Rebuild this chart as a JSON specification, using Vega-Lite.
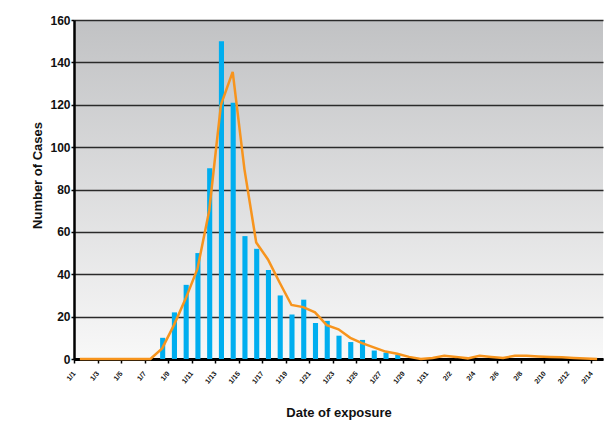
{
  "$schema": "https://vega.github.io/schema/vega-lite/v6.json",
  "width": 529,
  "height": 339,
  "autosize": "none",
  "padding": {"left": 74, "top": 20, "right": 5, "bottom": 66},
  "background": "#ffffff",
  "config": {
    "view": {
      "stroke": null,
      "fill": {"gradient": "linear", "x1": 0, "y1": 0, "x2": 0, "y2": 1, "stops": [{"offset": 0, "color": "#c1c2c4"}, {"offset": 1, "color": "#f8f8f8"}]}
    },
    "font": "Liberation Sans"
  },
  "datasets": {
    "bars": [
      {"date": "2010/01/08", "cases": 10},
      {"date": "2010/01/09", "cases": 22},
      {"date": "2010/01/10", "cases": 35},
      {"date": "2010/01/11", "cases": 50},
      {"date": "2010/01/12", "cases": 90},
      {"date": "2010/01/13", "cases": 150},
      {"date": "2010/01/14", "cases": 121},
      {"date": "2010/01/15", "cases": 58},
      {"date": "2010/01/16", "cases": 52},
      {"date": "2010/01/17", "cases": 42},
      {"date": "2010/01/18", "cases": 30},
      {"date": "2010/01/19", "cases": 21},
      {"date": "2010/01/20", "cases": 28},
      {"date": "2010/01/21", "cases": 17},
      {"date": "2010/01/22", "cases": 18},
      {"date": "2010/01/23", "cases": 11},
      {"date": "2010/01/24", "cases": 8},
      {"date": "2010/01/25", "cases": 9},
      {"date": "2010/01/26", "cases": 4},
      {"date": "2010/01/27", "cases": 3},
      {"date": "2010/01/28", "cases": 2}
    ],
    "trend": [
      {"date": "2010/01/01", "avg": 0},
      {"date": "2010/01/02", "avg": 0},
      {"date": "2010/01/03", "avg": 0},
      {"date": "2010/01/04", "avg": 0},
      {"date": "2010/01/05", "avg": 0},
      {"date": "2010/01/06", "avg": 0},
      {"date": "2010/01/07", "avg": 0},
      {"date": "2010/01/08", "avg": 5},
      {"date": "2010/01/09", "avg": 16},
      {"date": "2010/01/10", "avg": 28.5},
      {"date": "2010/01/11", "avg": 42.5},
      {"date": "2010/01/12", "avg": 70},
      {"date": "2010/01/13", "avg": 120},
      {"date": "2010/01/14", "avg": 135.5},
      {"date": "2010/01/15", "avg": 89.5},
      {"date": "2010/01/16", "avg": 55},
      {"date": "2010/01/17", "avg": 47},
      {"date": "2010/01/18", "avg": 36},
      {"date": "2010/01/19", "avg": 25.5},
      {"date": "2010/01/20", "avg": 24.5},
      {"date": "2010/01/21", "avg": 22},
      {"date": "2010/01/22", "avg": 16},
      {"date": "2010/01/23", "avg": 14},
      {"date": "2010/01/24", "avg": 10},
      {"date": "2010/01/25", "avg": 7.5},
      {"date": "2010/01/26", "avg": 5.5},
      {"date": "2010/01/27", "avg": 3.5},
      {"date": "2010/01/28", "avg": 2.5},
      {"date": "2010/01/29", "avg": 1},
      {"date": "2010/01/30", "avg": 0},
      {"date": "2010/01/31", "avg": 0.5},
      {"date": "2010/02/01", "avg": 1.5},
      {"date": "2010/02/02", "avg": 1},
      {"date": "2010/02/03", "avg": 0.3},
      {"date": "2010/02/04", "avg": 1.5},
      {"date": "2010/02/05", "avg": 1},
      {"date": "2010/02/06", "avg": 0.5},
      {"date": "2010/02/07", "avg": 1.5},
      {"date": "2010/02/08", "avg": 1.5},
      {"date": "2010/02/09", "avg": 1.2},
      {"date": "2010/02/10", "avg": 1},
      {"date": "2010/02/11", "avg": 0.8},
      {"date": "2010/02/12", "avg": 0.5},
      {"date": "2010/02/13", "avg": 0.2},
      {"date": "2010/02/14", "avg": 0}
    ]
  },
  "layer": [
    {
      "data": {"name": "bars"},
      "mark": {"type": "bar", "color": "#00aeef", "width": {"band": 0.52}},
      "encoding": {
        "x": {
          "field": "date",
          "type": "temporal",
          "timeUnit": "yearmonthdate",
          "scale": {"domain": [{"year": 2010, "month": 1, "date": 1}, {"year": 2010, "month": 2, "date": 15}], "nice": false},
          "axis": {
            "title": "Date of exposure",
            "titleFont": "Liberation Sans",
            "titleFontSize": 13,
            "titleFontWeight": "bold",
            "titleColor": "#111111",
            "titleY": 53,
            "titleBaseline": "middle",
            "tickCount": 100,
            "values": [
              {"year": 2010, "month": 1, "date": 1},
              {"year": 2010, "month": 1, "date": 3},
              {"year": 2010, "month": 1, "date": 5},
              {"year": 2010, "month": 1, "date": 7},
              {"year": 2010, "month": 1, "date": 9},
              {"year": 2010, "month": 1, "date": 11},
              {"year": 2010, "month": 1, "date": 13},
              {"year": 2010, "month": 1, "date": 15},
              {"year": 2010, "month": 1, "date": 17},
              {"year": 2010, "month": 1, "date": 19},
              {"year": 2010, "month": 1, "date": 21},
              {"year": 2010, "month": 1, "date": 23},
              {"year": 2010, "month": 1, "date": 25},
              {"year": 2010, "month": 1, "date": 27},
              {"year": 2010, "month": 1, "date": 29},
              {"year": 2010, "month": 1, "date": 31},
              {"year": 2010, "month": 2, "date": 2},
              {"year": 2010, "month": 2, "date": 4},
              {"year": 2010, "month": 2, "date": 6},
              {"year": 2010, "month": 2, "date": 8},
              {"year": 2010, "month": 2, "date": 10},
              {"year": 2010, "month": 2, "date": 12},
              {"year": 2010, "month": 2, "date": 14}
            ],
            "format": "%-m/%-d",
            "formatType": "time",
            "labelAngle": -50,
            "labelAlign": "right",
            "labelBaseline": "middle",
            "labelFontSize": 7,
            "labelFontWeight": "bold",
            "labelColor": "#111111",
            "labelPadding": 9,
            "labelOverlap": false,
            "labelFlush": false,
            "domainColor": "#000000",
            "domainWidth": 3,
            "tickColor": "#000000",
            "tickSize": 4,
            "tickWidth": 1.5,
            "grid": false
          }
        },
        "y": {
          "field": "cases",
          "type": "quantitative",
          "scale": {"domain": [0, 160], "nice": false},
          "axis": {
            "title": "Number of Cases",
            "titleFont": "Liberation Sans",
            "titleFontSize": 13,
            "titleFontWeight": "bold",
            "titleColor": "#111111",
            "titleAngle": -90,
            "titleX": -37,
            "titleY": 155,
            "titleAlign": "center",
            "titleBaseline": "middle",
            "values": [0, 20, 40, 60, 80, 100, 120, 140, 160],
            "labelFontSize": 12,
            "labelFontWeight": "bold",
            "labelColor": "#111111",
            "labelPadding": 1,
            "domainColor": "#000000",
            "domainWidth": 2.5,
            "tickColor": "#000000",
            "tickSize": 3,
            "tickWidth": 1.5,
            "grid": true,
            "gridColor": "#2a2a2a",
            "gridWidth": 1.5
          }
        }
      }
    },
    {
      "data": {"name": "trend"},
      "mark": {"type": "line", "color": "#f7941d", "strokeWidth": 2.5},
      "encoding": {
        "x": {"field": "date", "type": "temporal", "timeUnit": "yearmonthdate", "bandPosition": 0.5},
        "y": {"field": "avg", "type": "quantitative"}
      }
    }
  ]
}
